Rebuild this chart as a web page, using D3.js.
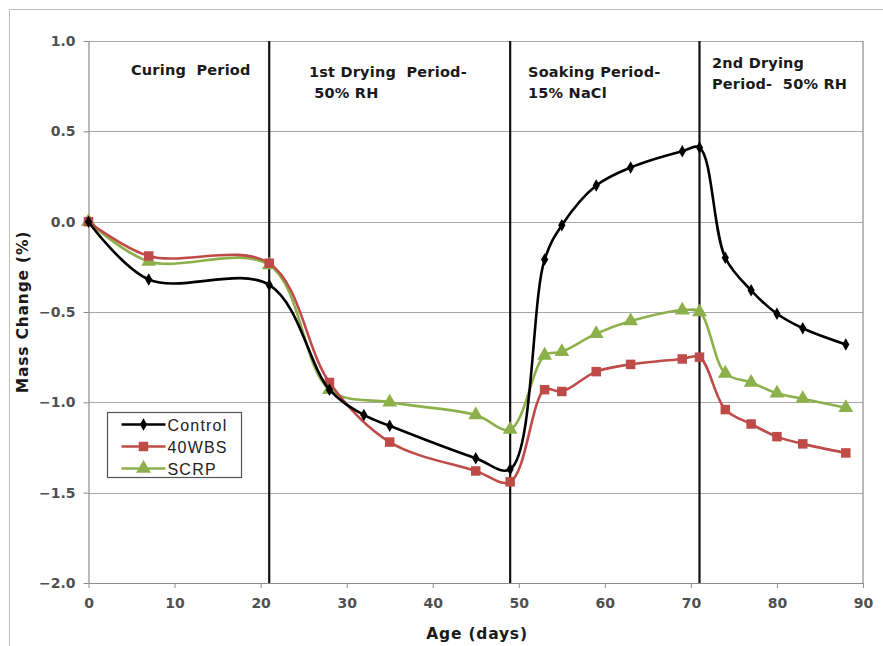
<!DOCTYPE html>
<html>
<head>
<meta charset="utf-8">
<script src="https://cdn.jsdelivr.net/npm/d3@7"></script>
<style>
  body { margin: 0; background: #fff; }
  svg { display: block; }
</style>
</head>
<body>
<div class="chart"></div>
<script>
// Mass change data
var controlDays = [0, 7, 21, 28, 32, 35, 45, 49, 53, 55, 59, 63, 69, 71, 74, 77, 80, 83, 88];
var controlMass = [0, -0.32, -0.35, -0.93, -1.07, -1.13, -1.31, -1.37, -0.21, -0.02, 0.20, 0.30, 0.39, 0.41, -0.20, -0.38, -0.51, -0.59, -0.68];

var wbsDays = [0, 7, 21, 28, 35, 45, 49, 53, 55, 59, 63, 69, 71, 74, 77, 80, 83, 88];
var wbsMass = [0, -0.19, -0.23, -0.89, -1.22, -1.38, -1.44, -0.93, -0.94, -0.83, -0.79, -0.76, -0.75, -1.04, -1.12, -1.19, -1.23, -1.28];

var scrpDays = [0, 7, 21, 28, 35, 45, 49, 53, 55, 59, 63, 69, 71, 74, 77, 80, 83, 88];
var scrpMass = [0, -0.22, -0.24, -0.93, -1.00, -1.07, -1.15, -0.74, -0.72, -0.62, -0.55, -0.49, -0.50, -0.84, -0.89, -0.95, -0.98, -1.03];

var periodLines = [21, 49, 71];
var xTicks = [0, 10, 20, 30, 40, 50, 60, 70, 80, 90];
var yTicks = [1.0, 0.5, 0.0, -0.5, -1.0, -1.5, -2.0];

var seriesNames = ["Control", "40WBS", "SCRP"];

// Chart dimensions
var svgWidth = 883;
var svgHeight = 646;
var margin = { top: 41, right: 20, bottom: 63, left: 88.5 };
var width = 863 - margin.left;
var height = 583 - margin.top;

var svg = d3.select(".chart")
  .append("svg")
  .attr("width", svgWidth)
  .attr("height", svgHeight);

// outer frame (only top and left edges show in the crop)
svg.append("path")
  .attr("d", "M9.5,646 V9.5 H883")
  .attr("fill", "none")
  .attr("stroke", "#bdbdbd");

var chartGroup = svg.append("g")
  .attr("transform", `translate(${margin.left}, ${margin.top})`);

var xScale = d3.scaleLinear().domain([0, 90]).range([0, width]);
var yScale = d3.scaleLinear().domain([-2, 1]).range([height, 0]);

// horizontal gridlines
chartGroup.selectAll(".grid")
  .data(yTicks)
  .enter()
  .append("line")
  .attr("x1", 0)
  .attr("x2", width)
  .attr("y1", d => Math.round(yScale(d)) + 0.5)
  .attr("y2", d => Math.round(yScale(d)) + 0.5)
  .attr("stroke", "#a6a6a6")
  .attr("stroke-width", 1.2);

// right edge of plot area
chartGroup.append("line")
  .attr("x1", width).attr("x2", width)
  .attr("y1", 0).attr("y2", height)
  .attr("stroke", "#8c8c8c")
  .attr("stroke-width", 1.2);

// axes
var bottomAxis = d3.axisBottom(xScale).tickValues(xTicks).tickSize(5).tickSizeOuter(0);
var leftAxis = d3.axisLeft(yScale).tickValues(yTicks).tickSize(5).tickSizeOuter(0)
  .tickFormat(d3.format(".1f"));

var xAxis = chartGroup.append("g")
  .attr("transform", `translate(0, ${height})`)
  .call(bottomAxis);

var yAxis = chartGroup.append("g")
  .call(leftAxis);

[xAxis, yAxis].forEach(function(ax) {
  ax.select(".domain").attr("stroke", "#8c8c8c").attr("stroke-width", 1.2);
  ax.selectAll(".tick line").attr("stroke", "#8c8c8c");
  ax.selectAll(".tick text")
    .attr("fill", "#505050")
    .attr("font-family", "DejaVu Sans, Verdana, sans-serif")
    .attr("font-size", "14px")
    .attr("font-weight", "bold");
});
xAxis.selectAll(".tick text").attr("y", 11).attr("dy", "1em");
yAxis.selectAll(".tick text").attr("x", -13);

// period divider lines
chartGroup.selectAll(".period")
  .data(periodLines)
  .enter()
  .append("line")
  .attr("x1", d => xScale(d))
  .attr("x2", d => xScale(d))
  .attr("y1", 0)
  .attr("y2", height)
  .attr("stroke", "#111")
  .attr("stroke-width", 2.2);

// period labels
var labelFont = "DejaVu Sans, Verdana, sans-serif";
var periodLabels = [
  { x: 131, y: 75, lines: ["Curing  Period"] },
  { x: 309, y: 77, lines: ["1st Drying  Period-", " 50% RH"] },
  { x: 528, y: 77, lines: ["Soaking Period-", "15% NaCl"] },
  { x: 712, y: 68, lines: ["2nd Drying", "Period-  50% RH"] }
];
periodLabels.forEach(function(p) {
  var t = svg.append("text")
    .attr("font-family", labelFont)
    .attr("font-size", "14.5px")
    .attr("font-weight", "bold")
    .attr("letter-spacing", "0.2px")
    .attr("fill", "#1a1a1a")
    .style("white-space", "pre");
  p.lines.forEach(function(line, i) {
    t.append("tspan")
      .attr("x", p.x)
      .attr("y", p.y + i * 20.5)
      .text(line);
  });
});

// series
var series = [
  { name: "Control", days: controlDays, mass: controlMass, color: "#000000", symbol: d3.symbolDiamond, size: 45 },
  { name: "40WBS", days: wbsDays, mass: wbsMass, color: "#be4b48", symbol: d3.symbolSquare, size: 90 },
  { name: "SCRP", days: scrpDays, mass: scrpMass, color: "#8cb04a", symbol: d3.symbolTriangle, size: 95 }
];

var line = d3.line()
  .x(d => xScale(d[0]))
  .y(d => yScale(d[1]))
  .curve(d3.curveCatmullRom.alpha(0.5));

// draw in reverse so Control sits on top where lines cross
series.slice().reverse().forEach(function(s) {
  var pts = s.days.map((d, i) => [d, s.mass[i]]);
  chartGroup.append("path")
    .datum(pts)
    .attr("d", line)
    .attr("fill", "none")
    .attr("stroke", s.color)
    .attr("stroke-width", 2.6);

  chartGroup.selectAll(null)
    .data(pts)
    .enter()
    .append("path")
    .attr("d", d3.symbol().type(s.symbol).size(s.size))
    .attr("transform", d => `translate(${xScale(d[0])}, ${yScale(d[1])})`)
    .attr("fill", s.color);
});

// legend
var legend = svg.append("g").attr("transform", "translate(107.5, 412.5)");
legend.append("rect")
  .attr("width", 134)
  .attr("height", 65)
  .attr("fill", "#fff")
  .attr("stroke", "#555")
  .attr("stroke-width", 1.2);

series.forEach(function(s, i) {
  var yPos = 12 + i * 22;
  legend.append("line")
    .attr("x1", 14).attr("x2", 58)
    .attr("y1", yPos).attr("y2", yPos)
    .attr("stroke", s.color)
    .attr("stroke-width", 2.6);
  legend.append("path")
    .attr("d", d3.symbol().type(s.symbol).size(s.size))
    .attr("transform", `translate(36, ${yPos})`)
    .attr("fill", s.color);
  legend.append("text")
    .attr("x", 60)
    .attr("y", yPos + 6)
    .attr("font-family", "Liberation Sans, Arial, sans-serif")
    .attr("font-size", "16px")
    .attr("letter-spacing", "1.2px")
    .attr("fill", "#222")
    .text(seriesNames[i]);
});

// axis titles
svg.append("text")
  .attr("x", 477)
  .attr("y", 639)
  .attr("text-anchor", "middle")
  .attr("font-family", labelFont)
  .attr("font-size", "15.5px")
  .attr("font-weight", "bold")
  .attr("letter-spacing", "0.8px")
  .attr("fill", "#1a1a1a")
  .text("Age (days)");

svg.append("text")
  .attr("transform", "translate(28, 312) rotate(-90)")
  .attr("text-anchor", "middle")
  .attr("font-family", labelFont)
  .attr("font-size", "15.5px")
  .attr("font-weight", "bold")
  .attr("letter-spacing", "0.8px")
  .attr("fill", "#1a1a1a")
  .text("Mass Change (%)");
</script>
</body>
</html>
